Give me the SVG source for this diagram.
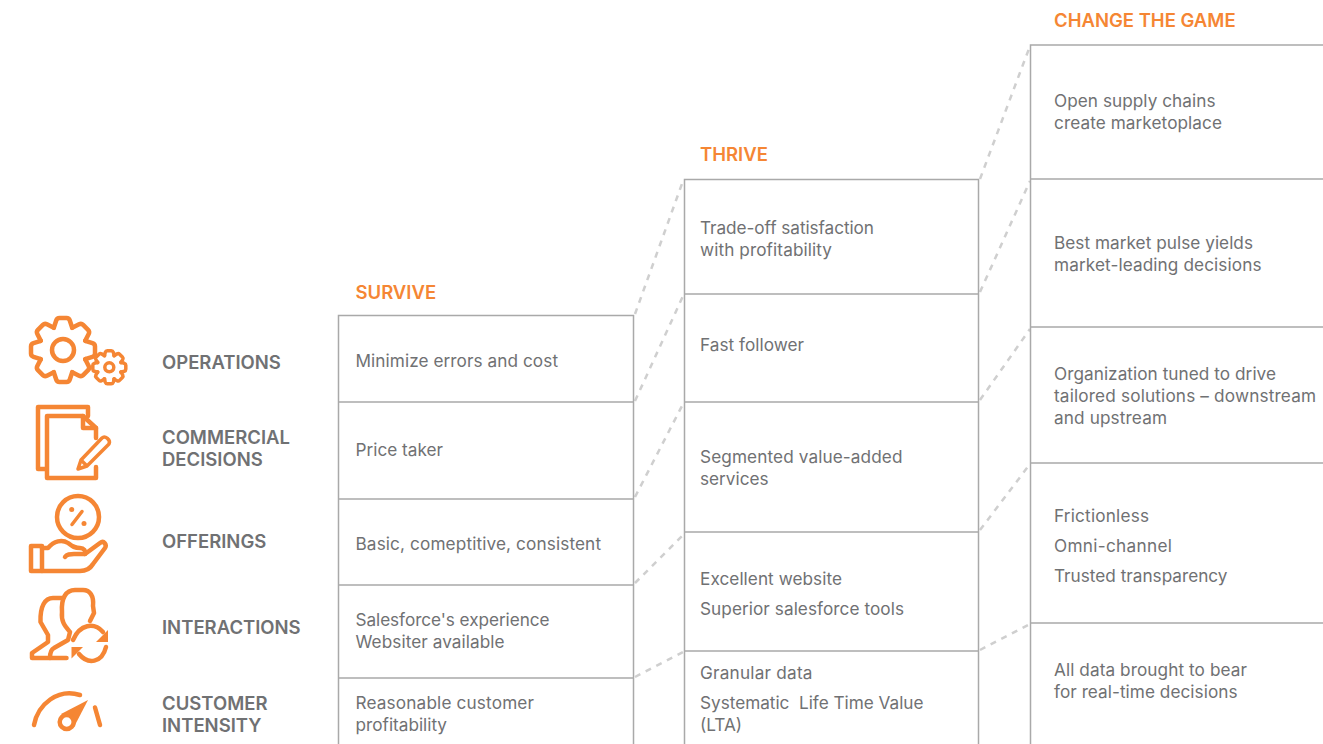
<svg xmlns="http://www.w3.org/2000/svg" width="1323" height="744" viewBox="0 0 1323 744">
<style>
text{font-family:"Inter","Liberation Sans",sans-serif;white-space:pre}
.b{font-size:17.2px;fill:#707173}
.l{font-size:18.5px;font-weight:600;fill:#707173}
.h{font-size:18.500px;font-weight:600;fill:#f58634}
.box{fill:none;stroke:#a9a9a9;stroke-width:1.500}
.c line{stroke:#cfcfcf;stroke-width:2.500;stroke-dasharray:6 6;fill:none}
.i *{fill:none;stroke:#f58634;stroke-width:4.500;stroke-linecap:round;stroke-linejoin:round}
.i .f{fill:#f58634;stroke:none}
.s{stroke-width:3.500 !important}
</style>
<defs>
<path id="tooth" d="M-9.200-22.200L-6.800-29.500Q-6-32-3.500-32H3.500Q6-32 6.800-29.500L9.200-22.200"/>
<path id="stooth" class="s" d="M-5-11.500L-4-15Q-3.500-16.500-2-16.500H2Q3.500-16.500 4-15L5-11.500"/>
</defs>
<rect width="1323" height="744" fill="#fff"/>
<g id="connectors" class="c">
<line x1="635" y1="314" x2="683" y2="181"/>
<line x1="635" y1="401" x2="683" y2="296"/>
<line x1="635" y1="497" x2="683" y2="404"/>
<line x1="635" y1="583" x2="683" y2="535"/>
<line x1="635" y1="677" x2="683" y2="652"/>
<line x1="980" y1="179" x2="1030" y2="46"/>
<line x1="980" y1="292" x2="1030" y2="181"/>
<line x1="980" y1="400" x2="1030" y2="329"/>
<line x1="980" y1="530" x2="1030" y2="464"/>
<line x1="980" y1="650" x2="1030" y2="624"/>
</g>
<g id="icon-operations" class="i">
<g transform="translate(63 350)">
<use href="#tooth"/><use href="#tooth" transform="rotate(45)"/><use href="#tooth" transform="rotate(90)"/><use href="#tooth" transform="rotate(135)"/><use href="#tooth" transform="rotate(180)"/><use href="#tooth" transform="rotate(225)"/><use href="#tooth" transform="rotate(270)"/><use href="#tooth" transform="rotate(315)"/>
<circle r="11"/>
</g>
<g transform="translate(109.300 367.300)">
<use href="#stooth"/><use href="#stooth" transform="rotate(45)"/><use href="#stooth" transform="rotate(90)"/><use href="#stooth" transform="rotate(135)"/><use href="#stooth" transform="rotate(180)"/><use href="#stooth" transform="rotate(225)"/><use href="#stooth" transform="rotate(270)"/><use href="#stooth" transform="rotate(315)"/>
<circle class="s" r="4.500"/>
</g>
</g>
<g id="icon-commercial" class="i">
<path d="M46 469H38V407H88V416"/>
<path d="M96 438V428L83 416H47V478H96V467"/>
<path d="M83 416V428H96"/>
<path class="s" d="M78 469L81 460L102 438C105 435 111 440 109 444L87 466ZM81 460L87 466"/>
</g>
<g id="icon-offerings" class="i">
<circle cx="78" cy="517" r="21"/>
<path class="s" d="M82 511.500L72 524.500"/>
<circle class="f" cx="71.700" cy="509.500" r="2.500"/><circle class="f" cx="84" cy="523.500" r="2.500"/>
<path d="M31 546H42V571H31Z"/>
<path d="M42 548H48C54 541 62 539 68 543C72 546 74 548 80 548C84 548 86 551 85 554L100 543C104 540 107 545 105 548L93 564C90 569 86 571 80 571H42"/>
<path d="M65 557C67 554 70 554 74 554H85"/>
</g>
<g id="icon-interactions" class="i">
<path d="M63 598H53C45 598 40 606 40.500 622L48 635V642L32 653V658H66.500"/>
<path d="M50 658C50 652 52 649 54 648L68 640L70 632C65 626 61 622 62 612C61 598 66 590 75 590H83C90 590 94 596 93 606L94 613L90 621"/>
<path d="M73 640C80 624 94 622 103 632"/>
<path d="M106 647C102 663 88 665 79 654"/>
<path class="f" d="M108 630V642H96Z"/><path class="f" d="M71.500 647H83L71.500 658.500Z"/>
</g>
<g id="icon-customer" class="i">
<path d="M34 725C38 704 58 688 80 695"/>
<path d="M95 707.500L100 725"/>
<path class="f" d="M88 700L61 714L74 727Z"/>
<circle cx="66.700" cy="722" r="7" style="fill:#fff"/>
</g>
<g id="row-labels">
<text class="l" x="162" y="369">OPERATIONS</text>
<text class="l" x="162" y="444">COMMERCIAL</text><text class="l" x="162" y="466">DECISIONS</text>
<text class="l" x="162" y="548">OFFERINGS</text>
<text class="l" x="162" y="634">INTERACTIONS</text>
<text class="l" x="162" y="710">CUSTOMER</text><text class="l" x="162" y="732">INTENSITY</text>
</g>
<g id="survive">
<text class="h" x="355.500" y="299">SURVIVE</text>
<rect class="box" x="338.500" y="315.500" width="295" height="440"/>
<path class="box" d="M338 402H634M338 499H634M338 585H634M338 678H634"/>
<text class="b" x="355.500" y="367" textLength="202.500">Minimize errors and cost</text>
<text class="b" x="355.500" y="456">Price taker</text>
<text class="b" x="355.500" y="550" textLength="245.500">Basic, comeptitive, consistent</text>
<text class="b" x="355.500" y="626" textLength="194">Salesforce's experience</text><text class="b" x="355.500" y="648" textLength="149">Websiter available</text>
<text class="b" x="355.500" y="709" textLength="178.500">Reasonable customer</text><text class="b" x="355.500" y="731">profitability</text>
</g>
<g id="thrive">
<text class="h" x="700" y="161">THRIVE</text>
<rect class="box" x="684.500" y="179.500" width="294" height="580"/>
<path class="box" d="M684 294H979M684 402H979M684 532H979M684 651H979"/>
<text class="b" x="700" y="234" textLength="174">Trade-off satisfaction</text><text class="b" x="700" y="256" textLength="132">with profitability</text>
<text class="b" x="700" y="351" textLength="104">Fast follower</text>
<text class="b" x="700" y="463" textLength="202.500">Segmented value-added</text><text class="b" x="700" y="485">services</text>
<text class="b" x="700" y="585" textLength="142">Excellent website</text><text class="b" x="700" y="615" textLength="204">Superior salesforce tools</text>
<text class="b" x="700" y="679" textLength="112.500">Granular data</text><text class="b" x="700" y="709" textLength="223.500">Systematic  Life Time Value</text><text class="b" x="700" y="731">(LTA)</text>
</g>
<g id="change">
<text class="h" x="1054" y="27">CHANGE THE GAME</text>
<path class="box" d="M1323 45H1030.500V760"/>
<path class="box" d="M1030 179H1323M1030 327H1323M1030 463H1323M1030 623H1323"/>
<text class="b" x="1054" y="107" textLength="161.500">Open supply chains</text><text class="b" x="1054" y="129" textLength="168">create marketoplace</text>
<text class="b" x="1054" y="249" textLength="199">Best market pulse yields</text><text class="b" x="1054" y="271" textLength="207.500">market-leading decisions</text>
<text class="b" x="1054" y="380" textLength="222">Organization tuned to drive</text><text class="b" x="1054" y="402" textLength="262">tailored solutions – downstream</text><text class="b" x="1054" y="424" textLength="113">and upstream</text>
<text class="b" x="1054" y="522" textLength="95">Frictionless</text><text class="b" x="1054" y="552" textLength="118">Omni-channel</text><text class="b" x="1054" y="582" textLength="173.500">Trusted transparency</text>
<text class="b" x="1054" y="676" textLength="193">All data brought to bear</text><text class="b" x="1054" y="698" textLength="183.500">for real-time decisions</text>
</g>
</svg>
